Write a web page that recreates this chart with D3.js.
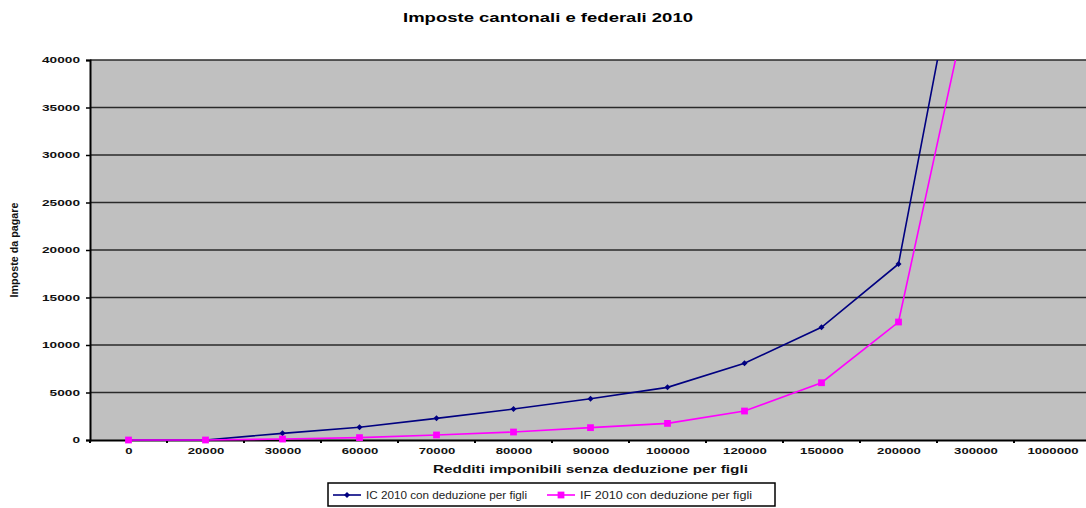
<!DOCTYPE html>
<html>
<head>
<meta charset="utf-8">
<script src="https://cdn.jsdelivr.net/npm/d3@7"></script>
<style>
  body { margin: 0; background: #fff; }
  text { font-family: "Liberation Sans", Arial, sans-serif; }
</style>
</head>
<body>
<script>
// categories: taxable income (CHF)
const redditi = ["0", "20000", "30000", "60000", "70000", "80000", "90000", "100000",
                 "120000", "150000", "200000", "300000", "1000000"];
// IC 2010 con deduzione per figli
const ic2010 = [0, 0, 700, 1340, 2280, 3260, 4350, 5540, 8070, 11860, 18530, 61000, 290000];
// IF 2010 con deduzione per figli
const if2010 = [0, 0, 100, 250, 530, 840, 1300, 1750, 3050, 6030, 12420, 49700, 110000];
const yTicks = [0, 5000, 10000, 15000, 20000, 25000, 30000, 35000, 40000];

const width = 1086, height = 508;
const plot = {left: 90, right: 1091, top: 60, bottom: 440};

const svg = d3.select("body").append("svg")
  .attr("width", width)
  .attr("height", height);

svg.append("defs").append("clipPath").attr("id", "clip")
  .append("rect")
  .attr("x", plot.left).attr("y", plot.top)
  .attr("width", plot.right - plot.left).attr("height", plot.bottom - plot.top + 5);

const x = d3.scalePoint().domain(redditi).range([plot.left, plot.right]).padding(0.5);
const y = d3.scaleLinear().domain([0, 40000]).range([plot.bottom, plot.top]);

// plot background
svg.append("rect")
  .attr("x", plot.left).attr("y", plot.top)
  .attr("width", plot.right - plot.left).attr("height", plot.bottom - plot.top)
  .attr("fill", "#c0c0c0");

// gridlines
svg.append("g").selectAll("line")
  .data(yTicks.filter(d => d > 0))
  .join("line")
  .attr("x1", plot.left).attr("x2", plot.right)
  .attr("y1", d => y(d)).attr("y2", d => y(d))
  .attr("stroke", "#2a2a2a").attr("stroke-width", 1.6);

// y axis
const yAxis = svg.append("g")
  .attr("transform", `translate(${plot.left},0)`)
  .call(d3.axisLeft(y).tickValues(yTicks).tickSize(4).tickPadding(6).tickFormat(d3.format("d")));
yAxis.select(".domain").attr("stroke", "#000").attr("stroke-width", 2);
yAxis.selectAll(".tick line").attr("stroke", "#000").attr("stroke-width", 1.5);
yAxis.selectAll(".tick text")
  .attr("fill", "#111").attr("font-size", 9).attr("font-weight", "bold")
  .attr("textLength", d => String(d).length * 7.6)
  .attr("lengthAdjust", "spacingAndGlyphs");

// x axis
const step = x.step();
const xAxis = svg.append("g")
  .attr("transform", `translate(0,${plot.bottom})`)
  .call(d3.axisBottom(x).tickSize(0).tickPadding(8));
xAxis.select(".domain").attr("stroke", "#000").attr("stroke-width", 2);
xAxis.selectAll(".tick text")
  .attr("fill", "#111").attr("font-size", 9).attr("font-weight", "bold")
  .attr("textLength", d => d.length * 7.3)
  .attr("lengthAdjust", "spacingAndGlyphs");
xAxis.selectAll(".bound")
  .data(redditi)
  .join("line")
  .attr("x1", d => x(d) - step / 2).attr("x2", d => x(d) - step / 2)
  .attr("y1", 0).attr("y2", 3)
  .attr("stroke", "#000").attr("stroke-width", 2);

// series
const series = [
  {name: "IC 2010 con deduzione per figli", values: ic2010, color: "#000080", marker: "diamond"},
  {name: "IF 2010 con deduzione per figli", values: if2010, color: "#ff00ff", marker: "square"}
];
const markerPath = s => s.marker === "diamond"
  ? d3.symbol(d3.symbolSquare, 18)()
  : d3.symbol(d3.symbolSquare, 46)();
const markerRot = s => s.marker === "diamond" ? " rotate(45)" : "";

const line = d3.line().x((d, i) => x(redditi[i])).y(d => y(d));
const g = svg.append("g").attr("clip-path", "url(#clip)");
series.forEach(s => {
  g.append("path")
    .datum(s.values)
    .attr("d", line)
    .attr("fill", "none")
    .attr("stroke", s.color)
    .attr("stroke-width", 1.6);
  g.selectAll(null)
    .data(s.values)
    .join("path")
    .attr("transform", (d, i) => `translate(${x(redditi[i])},${y(d)})` + markerRot(s))
    .attr("d", markerPath(s))
    .attr("fill", s.color);
});

// title
svg.append("text")
  .attr("x", 548).attr("y", 22)
  .attr("text-anchor", "middle")
  .attr("font-size", 12).attr("font-weight", "bold").attr("fill", "#000")
  .attr("textLength", 290).attr("lengthAdjust", "spacingAndGlyphs")
  .text("Imposte cantonali e federali 2010");

// axis titles
svg.append("text")
  .attr("x", (plot.left + plot.right) / 2).attr("y", 473)
  .attr("text-anchor", "middle")
  .attr("font-size", 10).attr("font-weight", "bold").attr("fill", "#111")
  .attr("textLength", 315).attr("lengthAdjust", "spacingAndGlyphs")
  .text("Redditi imponibili senza deduzione per figli");

svg.append("text")
  .attr("transform", `translate(18,${(plot.top + plot.bottom) / 2}) rotate(-90)`)
  .attr("text-anchor", "middle")
  .attr("font-size", 10).attr("font-weight", "bold").attr("fill", "#111")
  .attr("textLength", 95).attr("lengthAdjust", "spacingAndGlyphs")
  .text("Imposte da pagare");

// legend
const legend = svg.append("g");
legend.append("rect")
  .attr("x", 328).attr("y", 483)
  .attr("width", 447).attr("height", 23)
  .attr("fill", "#fff").attr("stroke", "#000").attr("stroke-width", 1.5);

const legendX = [333, 547];
const legendW = [175, 186];
series.forEach((s, i) => {
  const lx = legendX[i];
  legend.append("line")
    .attr("x1", lx).attr("x2", lx + 28)
    .attr("y1", 495).attr("y2", 495)
    .attr("stroke", s.color).attr("stroke-width", 1.6);
  legend.append("path")
    .attr("transform", `translate(${lx + 14},495)` + markerRot(s))
    .attr("d", markerPath(s))
    .attr("fill", s.color);
  legend.append("text")
    .attr("x", lx + 33).attr("y", 499)
    .attr("font-size", 10).attr("fill", "#222")
    .attr("textLength", legendW[i] - 14).attr("lengthAdjust", "spacingAndGlyphs")
    .text(s.name);
});
</script>
</body>
</html>
